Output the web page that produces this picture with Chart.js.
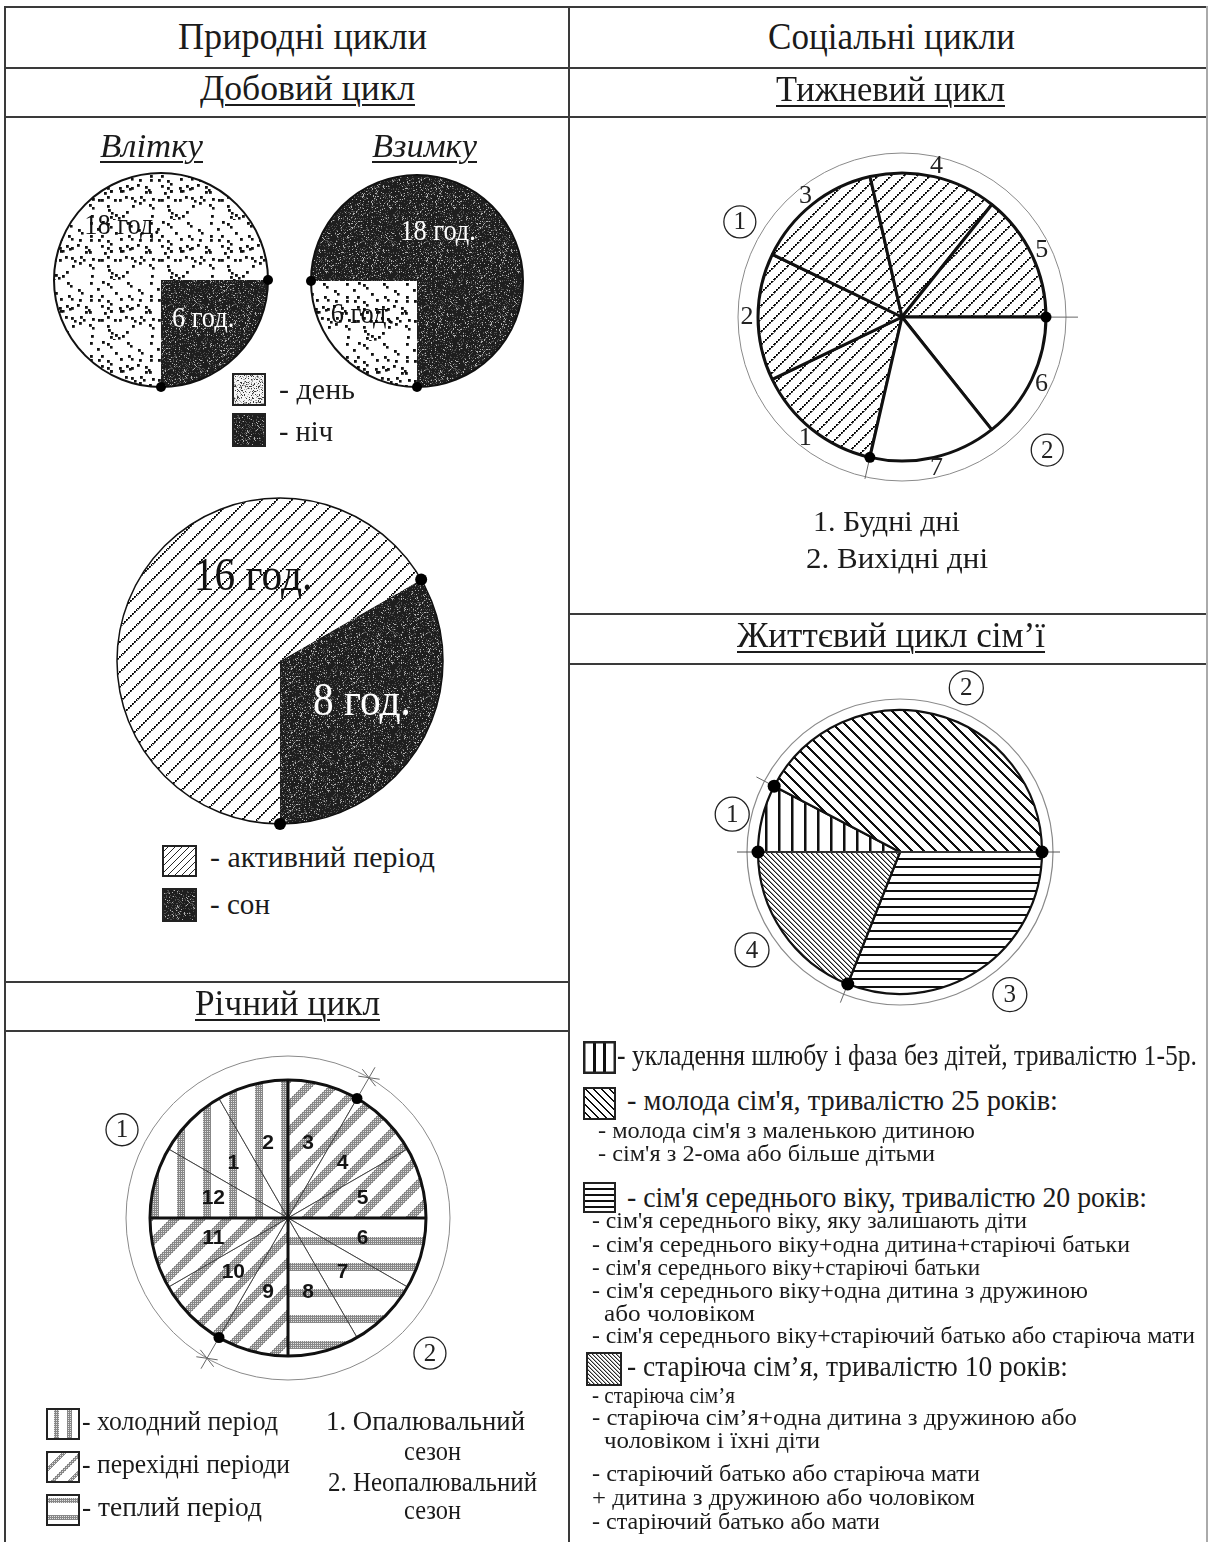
<!DOCTYPE html>
<html><head><meta charset="utf-8">
<script src="https://cdn.jsdelivr.net/npm/chart.js@4.4.1/dist/chart.umd.min.js"></script>
<style>
html,body{margin:0;padding:0;background:#fff;}
#page{position:relative;width:1210px;height:1542px;overflow:hidden;font-family:"Liberation Serif","Times New Roman",serif;color:#1b1b1b;}
.ln{position:absolute;background:#3a3a3a;}
.tx{position:absolute;white-space:nowrap;line-height:1;}
.box{position:absolute;}
.cw{position:absolute;}
</style></head><body><div id="page"></div>
<script>
// ---------------- DATA ----------------
const summerLabels = ['ніч', 'день'];
const summerHours  = [6, 18];
const winterLabels = ['день', 'ніч'];
const winterHours  = [6, 18];
const dailyLabels  = ['сон', 'активний період'];
const dailyHours   = [8, 16];
const weekDays     = ['1', '2', '3', '4', '5', '6', '7'];
const weekDayShare = [1, 1, 1, 1, 1, 1, 1];
const weekDayGroup = [1, 1, 1, 1, 1, 2, 2];          // 1 = будні, 2 = вихідні
const familyStages = ['1', '2', '3', '4'];
const familyYears  = [4.6, 25.4, 18.6, 11.4];        // sector sizes
const months       = ['1','2','3','4','5','6','7','8','9','10','11','12'];
const monthShare   = [1,1,1,1,1,1,1,1,1,1,1,1];
const monthPeriod  = ['cold','cold','trans','trans','trans','warm','warm','warm','trans','trans','trans','cold'];
const monthSeason  = [1,1,1,2,2,2,2,2,2,1,1,1];      // 1 = опалювальний, 2 = неопалювальний

// ---------------- helpers ----------------
const page = document.getElementById('page');
const mod = (a, n) => ((a % n) + n) % n;
const SERIF = '"Liberation Serif", "Times New Roman", serif';
// deterministic per-pixel hash, used only for paper-like textures (not data)
function hsh(x, y, s) {
  let h = (Math.imul(x, 374761393) + Math.imul(y, 668265263) + Math.imul(s || 0, 1442695041)) | 0;
  h = Math.imul(h ^ (h >>> 13), 1274126177);
  return ((h ^ (h >>> 16)) >>> 0) / 4294967296;
}

function line(x, y, w, h, c) {
  const d = document.createElement('div'); d.className = 'ln';
  Object.assign(d.style, {left: x + 'px', top: y + 'px', width: w + 'px', height: h + 'px'});
  if (c) d.style.background = c;
  page.appendChild(d);
}
function text(t, x1, x2, y, size, st) {
  const d = document.createElement('div'); d.className = 'tx'; d.textContent = t;
  d.style.fontSize = size + 'px'; d.style.left = x1 + 'px'; d.style.top = (y - 0.56 * size) + 'px';
  if (st && st.includes('u')) { d.style.textDecoration = 'underline'; d.style.textDecorationThickness = '1.6px'; d.style.textUnderlineOffset = '4px'; }
  if (st && st.includes('i')) d.style.fontStyle = 'italic';
  page.appendChild(d);
  const w = d.getBoundingClientRect().width;
  d.style.transformOrigin = '0 50%';
  d.style.transform = 'scaleX(' + ((x2 - x1) / w).toFixed(4) + ')';
}
function grayTile(w, h, fn) {
  const c = document.createElement('canvas'); c.width = w; c.height = h;
  const g = c.getContext('2d'); const im = g.createImageData(w, h);
  for (let y = 0; y < h; y++) for (let x = 0; x < w; x++) {
    const v = fn(x, y), k = (y * w + x) * 4;
    im.data[k] = im.data[k + 1] = im.data[k + 2] = v; im.data[k + 3] = 255;
  }
  g.putImageData(im, 0, 0); return c;
}
const half = (x, y) => (mod(x, 2) === 0 && mod(y, 2) === 0) ? 225 : 135;
const nightFn = (x, y) => { const v = hsh(x, y, 7); return v < 0.07 ? 175 : (v < 0.22 ? 80 : 30); };
const dotted = (s) => grayTile(s, s, (x, y) => { const d = mod(x + y, s); if (d > 2) return 255; const q = mod(x - y, 4); return q < 3 ? (d < 2 ? 8 : 120) : 255; });
const T = {
  day: (() => {
    const N = 60, c = document.createElement('canvas'); c.width = N; c.height = N;
    const g = c.getContext('2d'); g.fillStyle = '#fff'; g.fillRect(0, 0, N, N); g.fillStyle = '#111';
    for (let cy = 0; cy < N; cy += 6) for (let cx = 0; cx < N; cx += 6) {
      if (hsh(cx, cy, 3) < 0.45) {
        const ox = Math.floor(hsh(cx, cy, 11) * 4), oy = Math.floor(hsh(cx, cy, 19) * 4);
        g.fillRect(cx + ox, cy + oy, 2.8, 2.8);
        if (hsh(cx, cy, 29) < 0.25) g.fillRect(cx + ox + 3, cy + oy + 3, 2.6, 2.6);
      }
    }
    return c;
  })(),
  night: grayTile(64, 64, nightFn),
  active: dotted(15),
  week: dotted(13),
  fVert: grayTile(13, 2, (x) => (x === 5 || x === 6) ? 15 : (x === 7 ? 130 : 255)),
  fBack: grayTile(12, 12, (x, y) => mod(x - y, 12) < 3 ? 15 : 255),
  fHor: grayTile(2, 8, (x, y) => (y === 3 || y === 4) ? 15 : 255),
  fFine: grayTile(5, 5, (x, y) => { const m = mod(x - y, 5); return m === 0 ? 25 : (m === 1 ? 150 : 255); }),
  cold: grayTile(26, 2, (x, y) => x < 8 ? half(x, y) : 255),
  trans: grayTile(26, 26, (x, y) => mod(x + y, 26) < 11 ? half(x, y) : 255),
  warm: grayTile(2, 26, (x, y) => y < 8 ? half(x, y) : 255)
};
function swatch(x, y, w, h, fn, bw) {
  const c = document.createElement('canvas'); c.width = w; c.height = h; c.className = 'box';
  c.style.left = x + 'px'; c.style.top = y + 'px';
  const g = c.getContext('2d'); g.drawImage(grayTile(w, h, fn), 0, 0);
  g.strokeStyle = '#222'; g.lineWidth = bw; g.strokeRect(bw / 2, bw / 2, w - bw, h - bw);
  page.appendChild(c);
}

function deco(cfg) {
  return { id: 'deco', afterDatasetsDraw(chart) {
    const ctx = chart.ctx, arcs = chart.getDatasetMeta(0).data, a0 = arcs[0];
    const cx = a0.x, cy = a0.y, R = a0.outerRadius, rad = Math.PI / 180;
    const P = (a, r) => [cx + r * Math.cos(a), cy + r * Math.sin(a)];
    const seg = (a, r1, r2, w, c) => { const p = P(a, r1), q = P(a, r2); ctx.beginPath(); ctx.moveTo(p[0], p[1]); ctx.lineTo(q[0], q[1]); ctx.lineWidth = w; ctx.strokeStyle = c; ctx.stroke(); };
    ctx.save();
    if (cfg.heavy) cfg.heavy.forEach(i => seg(arcs[i].startAngle, 0, R, cfg.heavyW, '#111'));
    if (cfg.outline) { ctx.beginPath(); ctx.arc(cx, cy, R, 0, 2 * Math.PI); ctx.lineWidth = cfg.outline; ctx.strokeStyle = '#111'; ctx.stroke(); }
    if (cfg.ring) { ctx.beginPath(); ctx.arc(cx, cy, R + cfg.ring.off, 0, 2 * Math.PI); ctx.lineWidth = cfg.ring.w; ctx.strokeStyle = cfg.ring.c; ctx.stroke(); }
    if (cfg.hline) { ctx.beginPath(); ctx.moveTo(cx - R - cfg.hline[0], cy); ctx.lineTo(cx + R + cfg.hline[1], cy); ctx.lineWidth = 1; ctx.strokeStyle = '#555'; ctx.stroke(); }
    if (cfg.ticks) cfg.ticks.forEach(t => seg(arcs[t.i].startAngle, R + t.from, R + t.to, 1, '#666'));
    if (cfg.arrows) cfg.arrows.i.forEach(i => {
      const a = arcs[i].startAngle; seg(a, R, R + cfg.arrows.len, 1, '#666');
      const tip = P(a, R + cfg.arrows.off), t = [-Math.sin(a), Math.cos(a)], n = [Math.cos(a), Math.sin(a)];
      [-1, 1].forEach(s => { ctx.beginPath();
        ctx.moveTo(tip[0] + s * 10 * t[0] + 4 * n[0], tip[1] + s * 10 * t[1] + 4 * n[1]);
        ctx.lineTo(tip[0], tip[1]);
        ctx.lineTo(tip[0] + s * 10 * t[0] - 4 * n[0], tip[1] + s * 10 * t[1] - 4 * n[1]);
        ctx.lineWidth = 1; ctx.strokeStyle = '#666'; ctx.stroke(); });
    });
    if (cfg.dots) cfg.dots.i.forEach(i => { const p = P(arcs[i].startAngle, R); ctx.beginPath(); ctx.arc(p[0], p[1], cfg.dots.r, 0, 2 * Math.PI); ctx.fillStyle = '#000'; ctx.fill(); });
    ctx.textAlign = 'center'; ctx.textBaseline = 'middle';
    if (cfg.labels) cfg.labels.forEach(l => {
      const A = arcs[l.i], a = A.startAngle + l.frac * (A.endAngle - A.startAngle), p = P(a, R * l.rf);
      ctx.font = l.font; ctx.fillStyle = l.color;
      if (l.sx) { ctx.save(); ctx.translate(p[0], p[1]); ctx.scale(l.sx, 1); ctx.fillText(l.text, 0, 0); ctx.restore(); }
      else ctx.fillText(l.text, p[0], p[1]);
    });
    if (cfg.rim) arcs.forEach((A, i) => {
      const p = P((A.startAngle + A.endAngle) / 2, R + cfg.rim.off);
      ctx.font = cfg.rim.font; ctx.fillStyle = '#222'; ctx.fillText(cfg.rim.text[i], p[0], p[1]);
    });
    if (cfg.circled) cfg.circled.forEach(c => {
      const p = P(c.ang * rad, c.dist);
      ctx.beginPath(); ctx.arc(p[0], p[1], c.r || 16, 0, 2 * Math.PI); ctx.lineWidth = 1.3; ctx.strokeStyle = '#222'; ctx.stroke();
      ctx.font = '25px ' + SERIF; ctx.fillStyle = '#222'; ctx.fillText(c.n, p[0], p[1] + 1);
    });
    ctx.restore();
  }};
}
function makeChart(cx, cy, S, build) {
  const c = document.createElement('canvas'); c.width = S; c.height = S; c.className = 'cw';
  c.style.left = (cx - S / 2) + 'px'; c.style.top = (cy - S / 2) + 'px';
  page.appendChild(c);
  const ctx = c.getContext('2d');
  return new Chart(c, build(ctx));
}
function pieCfg(labels, data, bg, o, plugin) {
  return {
    type: 'pie',
    data: { labels, datasets: [{ data, backgroundColor: bg, borderColor: o.bc || '#111', borderWidth: o.bw || 0, hoverOffset: 0 }] },
    options: { responsive: false, animation: false, events: [], radius: o.r, rotation: o.rot, layout: { padding: 0 },
      plugins: { legend: { display: false }, tooltip: { enabled: false } } },
    plugins: [plugin]
  };
}
const P = (ctx, k) => ctx.createPattern(T[k], 'repeat');

// ---------------- table ----------------
line(4, 6, 1204, 2); line(4, 67, 1204, 2); line(4, 116, 1204, 2);
line(568, 613, 640, 2); line(568, 663, 640, 2);
line(4, 981, 566, 2); line(4, 1030, 566, 2);
line(4, 6, 2, 1536); line(568, 6, 2, 1536); line(1206, 6, 1.5, 1536, '#aaa');

// ---------------- charts ----------------
const fontPie = '30px ' + SERIF, fontBig = '46px ' + SERIF;
makeChart(161, 280, 240, ctx => pieCfg(summerLabels, summerHours, [P(ctx, 'night'), P(ctx, 'day')], { r: 107, rot: 90 },
  deco({ outline: 2, dots: { i: [0, 1], r: 5 }, labels: [
    { i: 0, frac: 0.48, rf: 0.54, color: '#fff', font: fontPie, sx: 0.88, text: summerHours[0] + ' год.' },
    { i: 1, frac: 0.534, rf: 0.62, color: '#111', font: fontPie, sx: 0.88, text: summerHours[1] + ' год.' }] })));
makeChart(417, 281, 240, ctx => pieCfg(winterLabels, winterHours, [P(ctx, 'day'), P(ctx, 'night')], { r: 106, rot: 180 },
  deco({ outline: 2, dots: { i: [0, 1], r: 5 }, labels: [
    { i: 0, frac: 0.65, rf: 0.61, color: '#111', font: fontPie, sx: 0.88, text: winterHours[0] + ' год.' },
    { i: 1, frac: 0.42, rf: 0.50, color: '#fff', font: fontPie, sx: 0.88, text: winterHours[1] + ' год.' }] })));
makeChart(280, 661, 346, ctx => pieCfg(dailyLabels, dailyHours, [P(ctx, 'night'), P(ctx, 'active')], { r: 163, rot: 60 },
  deco({ outline: 1.5, dots: { i: [0, 1], r: 6 }, labels: [
    { i: 0, frac: 0.476, rf: 0.565, color: '#fff', font: fontBig, sx: 0.9, text: dailyHours[0] + ' год.' },
    { i: 1, frac: 0.675, rf: 0.535, color: '#111', font: fontBig, sx: 0.9, text: dailyHours[1] + ' год.' }] })));

const weekBreaks = weekDayGroup.map((g, i) => g !== weekDayGroup[mod(i - 1, 7)] ? i : -1).filter(i => i >= 0);
makeChart(902, 317, 440, ctx => pieCfg(weekDays, weekDayShare,
  weekDayGroup.map(g => g === 1 ? P(ctx, 'week') : '#fff'), { r: 144, rot: 192.9, bw: 3 },
  deco({ ring: { off: 20, w: 1, c: '#8a8a8a' }, ticks: [{ i: weekBreaks[0], from: 0, to: 22 }, { i: weekBreaks[1], from: 0, to: 32 }],
    dots: { i: weekBreaks, r: 5.5 }, rim: { off: 11, font: '26px ' + SERIF, text: weekDays },
    circled: [{ n: '1', ang: 210.4, dist: 188 }, { n: '2', ang: 42.5, dist: 197 }] })));

makeChart(900, 852, 410, ctx => pieCfg(familyStages, familyYears,
  [P(ctx, 'fVert'), P(ctx, 'fBack'), P(ctx, 'fHor'), P(ctx, 'fFine')], { r: 142, rot: 270, bw: 2.2 },
  deco({ ring: { off: 11, w: 1.2, c: '#8a8a8a' }, hline: [21, 18], ticks: [{ i: 1, from: -6, to: 20 }, { i: 3, from: -6, to: 20 }],
    dots: { i: [0, 1, 2, 3], r: 6.5 },
    circled: [{ n: '1', ang: 192.7, dist: 172, r: 17 }, { n: '2', ang: 292, dist: 177, r: 17 }, { n: '3', ang: 52.4, dist: 180, r: 17 }, { n: '4', ang: 146.5, dist: 177.5, r: 17 }] })));

const seasonBreaks = monthSeason.map((s, i) => s !== monthSeason[mod(i - 1, 12)] ? i : -1).filter(i => i >= 0);
const quarterStarts = ['3', '6', '9', '12'].map(m => months.indexOf(m));
makeChart(288, 1218, 430, ctx => pieCfg(months, monthShare, monthPeriod.map(k => P(ctx, k)), { r: 138, rot: -60, bw: 1, bc: '#444' },
  deco({ heavy: quarterStarts, heavyW: 3, outline: 3, ring: { off: 24, w: 1, c: '#8a8a8a' },
    arrows: { i: seasonBreaks, len: 36, off: 24 }, dots: { i: seasonBreaks, r: 5.5 },
    labels: months.map((m, i) => ({ i, frac: 0.5, rf: 0.56, color: '#151515', font: 'bold 21px "Liberation Sans", Arial, sans-serif', text: m })),
    circled: [{ n: '1', ang: 208, dist: 188 }, { n: '2', ang: 43.6, dist: 196 }] })));

// ---------------- legend swatches ----------------
swatch(232, 373, 34, 33, (x, y) => { const v = hsh(x, y, 5); return v < 0.12 ? 60 : (v < 0.3 ? 170 : 245); }, 2);
swatch(232, 413, 34, 34, nightFn, 2);
swatch(162, 845, 35, 32, (x, y) => mod(x + y, 7) === 0 ? 40 : 255, 2);
swatch(162, 888, 35, 34, nightFn, 2);
swatch(583, 1041, 33, 33, (x) => (x >= 10 && x <= 12) || (x >= 20 && x <= 22) ? 15 : 255, 2.5);
swatch(583, 1087, 33, 33, (x, y) => mod(x - y, 8) < 2 ? 15 : 255, 2);
swatch(583, 1182, 33, 31, (x, y) => mod(y, 6) < 2 ? 15 : 255, 2);
swatch(586, 1352, 36, 34, (x, y) => { const m = mod(x - y, 4); return m === 0 ? 40 : (m === 1 ? 170 : 255); }, 2);
swatch(46, 1408, 34, 32, (x, y) => ((x >= 8 && x < 13) || (x >= 21 && x < 26)) ? half(x, y) : 255, 2);
swatch(46, 1451, 34, 32, (x, y) => mod(x + y, 17) < 5 ? half(x, y) : 255, 2);
swatch(46, 1494, 34, 32, (x, y) => ((y >= 4 && y < 9) || (y >= 21 && y < 26)) ? half(x, y) : 255, 2);

// ---------------- texts ----------------
[
  ['Природні цикли', 178, 427, 38, 38], ['Соціальні цикли', 768, 1015, 38, 38],
  ['Добовий цикл', 200, 415, 91, 35, 'u'], ['Тижневий цикл', 776, 1005, 92, 35, 'u'],
  ['Річний цикл', 195, 380, 1006, 35, 'u'], ['Життєвий цикл сім’ї', 737, 1045, 638, 35, 'u'],
  ['Влітку', 100, 203, 148, 34, 'iu'], ['Взимку', 372, 477, 148, 34, 'iu'],
  ['- день', 279, 355, 391, 29], ['- ніч', 279, 333, 433, 29],
  ['- активний період', 210, 435, 859, 30], ['- сон', 210, 270, 906, 30],
  ['1. Будні дні', 813, 960, 523, 29], ['2. Вихідні дні', 806, 988, 560, 29],
  ['- укладення шлюбу і фаза без дітей, тривалістю 1-5р.', 617, 1197, 1057, 30],
  ["- молода сім'я, тривалістю 25 років:", 627, 1058, 1102, 30],
  ["- молода сім'я з маленькою дитиною", 598, 975, 1131, 24],
  ["- сім'я з 2-ома або більше дітьми", 598, 935, 1154, 24],
  ["- сім'я середнього віку, тривалістю 20 років:", 627, 1147, 1199, 30],
  ["- сім'я середнього віку, яку залишають діти", 592, 1027, 1221, 24],
  ["- сім'я середнього віку+одна дитина+старіючі батьки", 592, 1130, 1245, 24],
  ["- сім'я середнього віку+старіючі батьки", 592, 980, 1268, 24],
  ["- сім'я середнього віку+одна дитина з дружиною", 592, 1088, 1291, 24],
  ['або чоловіком', 604, 755, 1314, 24],
  ["- сім'я середнього віку+старіючий батько або старіюча мати", 592, 1195, 1336, 24],
  ['- старіюча сім’я, тривалістю 10 років:', 627, 1068, 1368, 30],
  ['- старіюча сім’я', 592, 735, 1396, 24],
  ['- старіюча сім’я+одна дитина з дружиною або', 592, 1077, 1418, 24],
  ['чоловіком і їхні діти', 604, 820, 1441, 24],
  ['- старіючий батько або старіюча мати', 592, 980, 1474, 24],
  ['+ дитина з дружиною або чоловіком', 592, 975, 1498, 24],
  ['- старіючий батько або мати', 592, 880, 1522, 24],
  ['- холодний період', 82, 278, 1423, 28], ['- перехідні періоди', 82, 290, 1466, 28],
  ['- теплий період', 82, 262, 1509, 28],
  ['1. Опалювальний', 326, 525, 1423, 28], ['сезон', 404, 461, 1453, 28],
  ['2. Неопалювальний', 328, 537, 1484, 28], ['сезон', 404, 461, 1512, 28]
].forEach(a => text(a[0], a[1], a[2], a[3], a[4], a[5]));
</script></body></html>
